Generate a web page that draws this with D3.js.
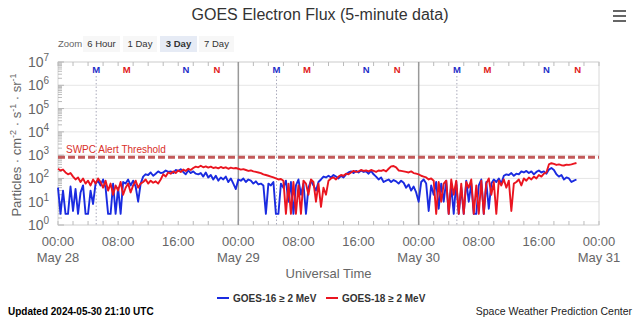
<!DOCTYPE html>
<html><head><meta charset="utf-8">
<script src="https://cdn.jsdelivr.net/npm/d3@7"></script>
<style>
body{margin:0;background:#fff;}
svg{display:block;font-family:"Liberation Sans",Arial,Helvetica,sans-serif;}
</style>
</head><body><svg id="c" width="640" height="322"></svg>
<script>
// ---------- DATA ----------
const startTime = "2024-05-28T00:00:00Z";
const stepMinutes = 20;
const goes16 = [
 40,3,30, 3,3,45, 4,35,3, 25,50,3, 3,30,8, 60,80,50, 90,40,3, 3,60,3, 40,3,70, 60,90,50,
 80,45,10, 60,120,150, 140,180,130, 160,200,170, 180,220,190, 200,170,230, 210,250,190, 150,220,170, 200,160,150, 170,120,180,
 110,140,90, 130,80,110, 90,120,70, 100,60,35, 90,80,100, 70,90,80, 60,75,55, 60,50,3, 60,50,70, 3,3,60,
 40,80,10, 70,3,50, 90,20,60, 3,40,80, 50,30,70, 90,120,110, 130,110,140, 120,100,130, 110,150,180, 200,170,210,
 180,220,190, 200,160,210, 150,120,90, 110,70,80, 90,70,85, 75,60,80, 65,40,55, 30,45,25, 10,70,90, 60,4,50,
 20,70,5, 60,10,80, 3,50,3, 70,3,40, 3,80,10, 60,3,3, 50,90,3, 70,5,60, 90,70,100, 60,130,150,
 140,170,130, 160,150,200, 180,210,170, 200,150,190, 220,180,200, 160,240,280, 230,150,120, 140,90,110, 100,70,80, 90
];
const goes18 = [
 260,220,240, 180,150,170, 120,90,110, 70,100,60, 80,50,90, 60,100,70, 40,80,30, 60,20,50, 30,70,20, 40,60,25,
 50,80,40, 60,70,90, 60,80,65, 75,60,90, 150,120,180, 160,200,170, 220,190,240, 210,260,230, 280,320,300, 350,300,330,
 290,320,280, 300,270,310, 280,300,260, 290,270,280, 260,240,250, 230,210,220, 200,190,180, 170,150,140, 130,120,110, 100,90,95,
 80,3,60, 3,70,3, 50,3,80, 60,20,90, 70,10,60, 6,40,20, 80,100,110, 90,120,140, 130,160,150, 180,210,190,
 200,230,210, 220,200,230, 210,190,220, 210,230,200, 260,330,340, 300,220,210, 200,190,180, 200,170,160, 150,130,120, 110,90,100,
 80,3,70, 10,60,80, 3,90,20, 80,3,60, 3,70,40, 90,3,50, 3,80,3, 60,100,20, 70,3,80, 50,90,40,
 80,4,60, 70,90,50, 100,80,110, 90,120,100, 140,120,160, 180,400,450, 420,380,400, 370,360,390, 380,400,430, 460
];
const seriesNames = ["GOES-16 \u2265 2 MeV", "GOES-18 \u2265 2 MeV"];
const yExponents = [0,1,2,3,4,5,6,7];
const xTickHours = [0,8,16,24,32,40,48,56,64,72];
const alertThreshold = 1000;
const markerDays = ["2024-05-28","2024-05-29","2024-05-30"];
const markerTimes = [
 {label:"M", sat:16, time:"05:05"},
 {label:"M", sat:18, time:"09:09"},
 {label:"N", sat:16, time:"17:01"},
 {label:"N", sat:18, time:"21:09"}
];
const zoomButtons = ["6 Hour","1 Day","3 Day","7 Day"];

// ---------- LAYOUT ----------
const svg = d3.select("#c");
const L = 58, R = 599, T = 62, B = 225;
const blue = "#1a2be0", red = "#ea1520";
const t0 = new Date(startTime);
const x = d3.scaleUtc().domain([t0, d3.utcHour.offset(t0, 72)]).range([L, R]);
const y = d3.scaleLog().domain([1, 1e7]).range([B, T]);
const tAt = i => d3.utcMinute.offset(t0, i * stepMinutes);

// title
svg.append("text").attr("x", 320).attr("y", 20).attr("text-anchor","middle")
  .attr("font-size", 16).attr("fill", "#333").text("GOES Electron Flux (5-minute data)");
// hamburger
[0,1,2].forEach(k => svg.append("line").attr("x1",613).attr("x2",626)
  .attr("y1", 11 + k*5).attr("y2", 11 + k*5).attr("stroke","#666").attr("stroke-width",2));

// zoom buttons
svg.append("text").attr("x", 58).attr("y", 47).attr("font-size", 9.5).attr("fill","#666").text("Zoom");
const btnX = [83, 123, 160, 199], btnW = [37, 34, 37, 35];
zoomButtons.forEach((b,i) => {
  svg.append("rect").attr("x", btnX[i]).attr("y", 36).attr("width", btnW[i]).attr("height", 16)
    .attr("fill", i===2 ? "#e6ebf5" : "#f7f7f7");
  svg.append("text").attr("x", btnX[i] + btnW[i]/2).attr("y", 47).attr("text-anchor","middle")
    .attr("font-size", 9.5).attr("font-weight", i===2 ? "bold" : "normal").attr("fill","#333").text(b);
});

// grid
svg.append("g").selectAll("line").data(yExponents.map(e => 10**e)).join("line")
  .attr("x1", L).attr("x2", R).attr("y1", d => y(d)).attr("y2", d => y(d))
  .attr("stroke", "#e6e6e6").attr("stroke-width", 1);

// frame
svg.append("rect").attr("x", L).attr("y", T).attr("width", R-L).attr("height", B-T)
  .attr("fill","none").attr("stroke","#d8d8d8").attr("stroke-width",1);

// minor y ticks
const minorY = [];
for (let e = 0; e < 7; e++) for (let m = 1; m < 10; m++) minorY.push(m * 10**e);
minorY.push(1e7);
svg.append("g").selectAll("line").data(minorY).join("line")
  .attr("x1", L).attr("x2", d => L + (Math.abs(Math.log10(d) % 1) < 1e-9 ? 6 : 4))
  .attr("y1", d => y(d)).attr("y2", d => y(d)).attr("stroke", "#aaa").attr("stroke-width", 0.8);

// x ticks (every 2 h) top and bottom
const xMinor = d3.range(0, 73, 2).map(h => d3.utcHour.offset(t0, h));
svg.append("g").selectAll("line").data(xMinor).join("line")
  .attr("x1", d => x(d)).attr("x2", d => x(d)).attr("y1", B).attr("y2", B - 4).attr("stroke", "#bbb");
svg.append("g").selectAll("line").data(xMinor).join("line")
  .attr("x1", d => x(d)).attr("x2", d => x(d)).attr("y1", T).attr("y2", T + 4).attr("stroke", "#bbb");

// midnight lines
svg.append("g").selectAll("line").data([24,48].map(h => d3.utcHour.offset(t0,h))).join("line")
  .attr("x1", d => x(d)).attr("x2", d => x(d)).attr("y1", T).attr("y2", B)
  .attr("stroke", "#999").attr("stroke-width", 1.5);

// markers
const markers = [];
markerDays.forEach(d => markerTimes.forEach(m => markers.push({...m, t: new Date(d + "T" + m.time + ":00Z")})));
svg.append("g").selectAll("line").data(markers.filter(m => m.sat===16 && m.label==="M")).join("line")
  .attr("x1", d => x(d.t)).attr("x2", d => x(d.t)).attr("y1", T + 14).attr("y2", B)
  .attr("stroke", "#aab").attr("stroke-width", 1).attr("stroke-dasharray", "1.5,2");
svg.append("g").selectAll("text").data(markers).join("text")
  .attr("x", d => x(d.t)).attr("y", 73).attr("text-anchor","middle")
  .attr("font-size", 9.5).attr("font-weight","bold")
  .attr("fill", d => d.sat===16 ? "#1f2fc8" : "#e02020").text(d => d.label);

// threshold
svg.append("line").attr("x1", L).attr("x2", R).attr("y1", y(alertThreshold)+2).attr("y2", y(alertThreshold)+2)
  .attr("stroke", "#c25a5a").attr("stroke-width", 3).attr("stroke-dasharray", "7,3");
svg.append("text").attr("x", 66).attr("y", y(alertThreshold) - 2.5).attr("font-size", 10)
  .attr("fill", "#d9302a").text("SWPC Alert Threshold");

// series
const line = d3.line().x((d,i) => x(tAt(i))).y(d => y(d));
svg.append("path").datum(goes16).attr("d", line).attr("fill","none")
  .attr("stroke", blue).attr("stroke-width", 1.9).attr("stroke-linejoin","round");
svg.append("path").datum(goes18).attr("d", line).attr("fill","none")
  .attr("stroke", red).attr("stroke-width", 1.9).attr("stroke-linejoin","round");

// y labels
const yl = svg.append("g").selectAll("text").data(yExponents).join("text")
  .attr("x", 45).attr("y", d => y(10**d) + 5).attr("text-anchor","start")
  .attr("font-size", 14).attr("fill", "#666")
  .attr("dx", -17).text("10");
yl.append("tspan").attr("font-size", 10).attr("dy", -6).text(d => d);

// y title
const yt = svg.append("text").attr("transform", "translate(21,145) rotate(-90)")
  .attr("text-anchor","middle").attr("font-size", 13).attr("fill","#666");
yt.append("tspan").text("Particles \u00b7 cm");
yt.append("tspan").attr("font-size", 9).attr("dy", -5).text("-2");
yt.append("tspan").attr("dy", 5).text(" \u00b7 s");
yt.append("tspan").attr("font-size", 9).attr("dy", -5).text("-1");
yt.append("tspan").attr("dy", 5).text(" \u00b7 sr");
yt.append("tspan").attr("font-size", 9).attr("dy", -5).text("-1");

// x labels
const xt = svg.append("g").selectAll("g").data(xTickHours.map(h => d3.utcHour.offset(t0,h))).join("g");
xt.append("text").attr("x", d => x(d)).attr("y", 246).attr("text-anchor","middle")
  .attr("font-size", 13).attr("fill","#666").text(d3.utcFormat("%H:%M"));
xt.filter(d => d.getUTCHours()===0).append("text").attr("x", d => x(d)).attr("y", 262).attr("text-anchor","middle")
  .attr("font-size", 13).attr("fill","#666").text(d3.utcFormat("%b %-d"));
svg.append("text").attr("x", (L+R)/2).attr("y", 278).attr("text-anchor","middle")
  .attr("font-size", 13).attr("fill","#666").text("Universal Time");

// legend
const lg = [{x:217, c:blue, n:seriesNames[0]}, {x:326, c:red, n:seriesNames[1]}];
lg.forEach(d => {
  svg.append("line").attr("x1", d.x).attr("x2", d.x + 12).attr("y1", 298).attr("y2", 298)
    .attr("stroke", d.c).attr("stroke-width", 2);
  svg.append("text").attr("x", d.x + 16).attr("y", 302).attr("font-size", 10).attr("font-weight","bold")
    .attr("fill","#333").text(d.n);
});
svg.append("text").attr("x", 8).attr("y", 315).attr("font-size", 10).attr("font-weight","bold")
  .attr("fill","#000").text("Updated 2024-05-30 21:10 UTC");
svg.append("text").attr("x", 632).attr("y", 315).attr("text-anchor","end").attr("font-size", 10.5)
  .attr("fill","#222").text("Space Weather Prediction Center");
</script></body></html>
